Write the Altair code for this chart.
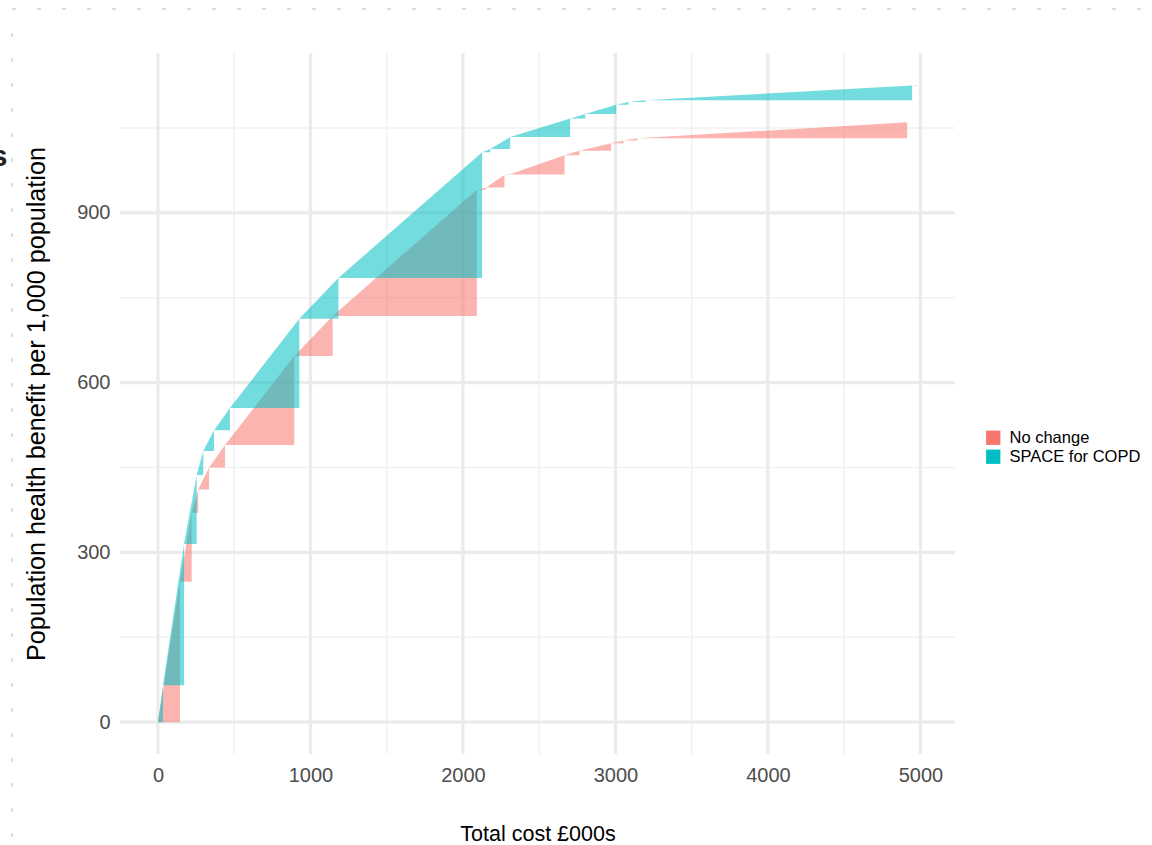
import altair as alt
import pandas as pd

# Cumulative cost (£000s) and cumulative population health benefit per 1,000
# population at each step of the two intervention frontiers.
no_change_cost = [0, 144, 221, 264, 335, 440, 894, 1146, 2091, 2152, 2272, 2305,
                  2666, 2764, 2972, 3053, 3143, 4913, 4946]
no_change_benefit = [0, 248, 370, 411, 450, 490, 647, 718, 941, 945, 967, 968,
                     1002, 1010, 1023, 1028, 1032, 1060, 1060.4]
space_cost = [0, 33, 171, 254, 297, 368, 472, 927, 1183, 2126, 2179, 2310,
              2703, 2802, 3005, 3086, 3196, 4946, 4978]
space_benefit = [0, 65, 315, 437, 479, 516, 555, 713, 785, 1007, 1013, 1034,
                 1067, 1075, 1091, 1096, 1099, 1125, 1126]

scenarios = ["No change", "SPACE for COPD"]
colours = ["#F8766D", "#00BFC4"]

x_ticks = [0, 1000, 2000, 3000, 4000, 5000]
x_minor = [500, 1500, 2500, 3500, 4500]
y_ticks = [0, 300, 600, 900]
y_minor = [150, 450, 750, 1050]
x_limits = [-249, 5227]
y_limits = [-56.3, 1182.6]

FONT = "Liberation Sans"
W, H = 835, 701


def triangles(name, cost, benefit):
    """One right triangle per step: from the previous point up to the next one."""
    rows = []
    for i in range(1, len(cost)):
        base = benefit[i - 1]
        rows.append(dict(scenario=name, step=i, cost=cost[i - 1], top=benefit[i - 1], base=base))
        rows.append(dict(scenario=name, step=i, cost=cost[i], top=benefit[i], base=base))
    return pd.DataFrame(rows)


red = triangles(scenarios[0], no_change_cost, no_change_benefit)
teal = triangles(scenarios[1], space_cost, space_benefit)

xscale = alt.Scale(domain=x_limits, nice=False, zero=False)
yscale = alt.Scale(domain=y_limits, nice=False, zero=False)

x_axis = alt.Axis(values=x_ticks, format="d", grid=False, domain=False, ticks=False,
                  labelPadding=11, labelFontSize=20, labelColor="#4D4D4D",
                  labelFont=FONT, title="Total cost £000s", titleFont=FONT,
                  titleFontSize=21.5, titleFontWeight="normal", titleColor="black",
                  titleBaseline="alphabetic", titleX=W / 2, titleY=86)
y_axis = alt.Axis(values=y_ticks, format="d", grid=False, domain=False, ticks=False,
                  labelPadding=10, labelFontSize=20, labelColor="#4D4D4D",
                  labelFont=FONT,
                  title="Population health benefit per 1,000 population",
                  titleFont=FONT, titleFontSize=25.2, titleFontWeight="normal",
                  titleColor="black", titleBaseline="alphabetic",
                  titleX=-76, titleY=H / 2)

legend = alt.Legend(orient="none", legendX=865, legendY=376.5, padding=0,
                    symbolType="square", symbolSize=204, symbolOpacity=1,
                    symbolStrokeWidth=0, labelFont=FONT, labelFontSize=16.5,
                    labelColor="black", labelOffset=8, rowPadding=2)

colour = alt.Color("scenario:N", scale=alt.Scale(domain=scenarios, range=colours),
                   legend=legend, title=None)

# background grid (carries the axes, drawn first)
grid_x_major = alt.Chart(pd.DataFrame({"v": x_ticks})).mark_rule(
    color="#EBEBEB", strokeWidth=3.2).encode(x=alt.X("v:Q", scale=xscale, axis=x_axis))
grid_x_minor = alt.Chart(pd.DataFrame({"v": x_minor})).mark_rule(
    color="#F1F1F1", strokeWidth=1.6).encode(x=alt.X("v:Q", scale=xscale, axis=x_axis))
grid_y_major = alt.Chart(pd.DataFrame({"v": y_ticks})).mark_rule(
    color="#EBEBEB", strokeWidth=3.2).encode(y=alt.Y("v:Q", scale=yscale, axis=y_axis))
grid_y_minor = alt.Chart(pd.DataFrame({"v": y_minor})).mark_rule(
    color="#F1F1F1", strokeWidth=1.6).encode(y=alt.Y("v:Q", scale=yscale, axis=y_axis))


def area_layer(df):
    return alt.Chart(df).mark_area(opacity=0.55, interpolate="linear", strokeWidth=0).encode(
        x=alt.X("cost:Q", scale=xscale, axis=x_axis),
        y=alt.Y("top:Q", scale=yscale, axis=y_axis),
        y2="base:Q",
        detail="step:N",
        color=colour,
    )


# dashed page frame along the top and left edges
frame_top = alt.Chart(pd.DataFrame({"k": [0]})).mark_rule(
    color="#D4D4D4", strokeWidth=1.5, strokeDash=[4, 21]).encode(
    x=alt.value(-108), x2=alt.value(1032), y=alt.value(-44))
frame_left = alt.Chart(pd.DataFrame({"k": [0]})).mark_rule(
    color="#D4D4D4", strokeWidth=1.5, strokeDash=[4, 21]).encode(
    x=alt.value(-108), y=alt.value(-20), y2=alt.value(792))

# clipped glyph of a neighbouring label at the left page edge
edge_glyph = alt.Chart(pd.DataFrame({"t": ["s"]})).mark_text(
    font=FONT, fontSize=30, fontWeight="bold", color="#222222",
    align="center", baseline="middle").encode(
    text="t:N", x=alt.value(-121), y=alt.value(104))

chart = alt.layer(
    grid_x_minor, grid_y_minor, grid_x_major, grid_y_major,
    area_layer(red), area_layer(teal),
    frame_top, frame_left, edge_glyph,
).properties(
    width=W, height=H,
    autosize=alt.AutoSizeParams(type="none"),
    padding={"left": 120, "top": 53, "right": 197, "bottom": 91},
    background="white",
).configure_view(strokeWidth=0)

chart.save("out.html", embed_options={"renderer": "svg", "actions": False})
